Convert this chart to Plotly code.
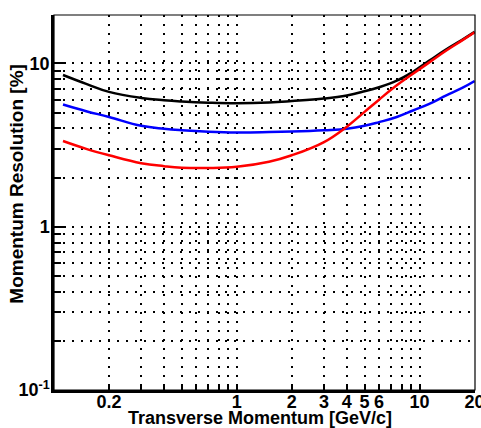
import plotly.graph_objects as go

# Transverse momentum values [GeV/c]
pt = [0.112, 0.15, 0.2, 0.3, 0.4, 0.5, 0.7, 1.0, 1.5, 2.0, 3.0, 4.0, 5.0, 6.0, 7.5, 9.2, 11.3, 14.0, 17.0, 20.0]
# Momentum resolution [%]
res_black = [8.5, 7.5, 6.7, 6.15, 5.95, 5.85, 5.75, 5.7, 5.76, 5.88, 6.1, 6.37, 6.75, 7.15, 7.85, 8.9, 10.4, 12.2, 13.9, 15.6]
res_blue = [5.6, 5.1, 4.7, 4.15, 3.98, 3.9, 3.82, 3.78, 3.8, 3.83, 3.9, 3.98, 4.15, 4.37, 4.7, 5.15, 5.65, 6.37, 7.05, 7.8]
res_red = [3.35, 3.0, 2.74, 2.45, 2.35, 2.3, 2.29, 2.33, 2.5, 2.74, 3.3, 4.1, 5.05, 6.0, 7.35, 8.65, 10.15, 12.0, 13.8, 15.5]

x_major = [0.2, 1, 2, 3, 4, 5, 6, 10, 20]
x_major_text = ["0.2", "1", "2", "3", "4", "5", "6", "10", "20"]
x_minor = [0.3, 0.4, 0.5, 0.6, 0.7, 0.8, 0.9, 7, 8, 9]
y_major = [0.1, 1, 10]
y_major_text = ["10<sup>-1</sup>", "1", "10"]
y_minor = [0.2, 0.3, 0.4, 0.5, 0.6, 0.7, 0.8, 0.9, 2, 3, 4, 5, 6, 7, 8, 9]

FONT = "Liberation Sans, Arial, sans-serif"

fig = go.Figure()
for ys, col in [(res_black, "#000000"), (res_blue, "#0000ff"), (res_red, "#ff0000")]:
    fig.add_trace(go.Scatter(x=pt, y=ys, mode="lines",
                             line=dict(color=col, width=2.5, shape="spline", smoothing=1.2),
                             showlegend=False, hoverinfo="skip"))

grid = dict(showgrid=True, gridcolor="black", gridwidth=1.8, griddash="2px,7px")

fig.update_xaxes(type="log", range=[-1.0, 1.3031], automargin=False,
                 tickmode="array", tickvals=x_major, ticktext=x_major_text,
                 ticks="inside", ticklen=6, tickwidth=1.5, tickcolor="black",
                 tickfont=dict(family=FONT, size=18, color="black", weight="bold"),
                 ticklabelstandoff=-6, ticklabeloverflow="allow",
                 showline=True, linecolor="black", linewidth=2.5,
                 minor=dict(tickmode="array", tickvals=x_minor, ticks="inside", ticklen=6,
                            tickwidth=1.5, tickcolor="black", **grid),
                 zeroline=False, **grid)
fig.update_yaxes(type="log", range=[-1.0, 1.2967], automargin=False,
                 tickmode="array", tickvals=y_major, ticktext=y_major_text,
                 ticks="inside", ticklen=12, tickwidth=1.5, tickcolor="black",
                 tickfont=dict(family=FONT, size=18, color="black", weight="bold"),
                 ticklabelstandoff=-2, ticklabeloverflow="allow",
                 showline=True, linecolor="black", linewidth=2.5,
                 minor=dict(tickmode="array", tickvals=y_minor, ticks="inside", ticklen=7,
                            tickwidth=1.5, tickcolor="black", **grid),
                 zeroline=False, **grid)

fig.add_shape(type="rect", xref="paper", yref="paper", x0=0, y0=0, x1=1, y1=1,
              line=dict(color="black", width=1.2), layer="above")

fig.add_annotation(text="Transverse Momentum [GeV/c]", xref="paper", yref="paper",
                   x=0.49, y=-0.074, xanchor="center", yanchor="middle", showarrow=False,
                   font=dict(family=FONT, size=18, color="black", weight="bold"))
fig.add_annotation(text="Momentum Resolution [%]", xref="paper", yref="paper",
                   x=-0.088, y=0.55, xanchor="center", yanchor="middle", showarrow=False,
                   textangle=-90,
                   font=dict(family=FONT, size=19, color="black", weight="bold"))

fig.update_layout(width=481, height=428,
                  margin=dict(l=54, r=6, t=15, b=38),
                  paper_bgcolor="white", plot_bgcolor="white")

fig.write_html("out.html")
